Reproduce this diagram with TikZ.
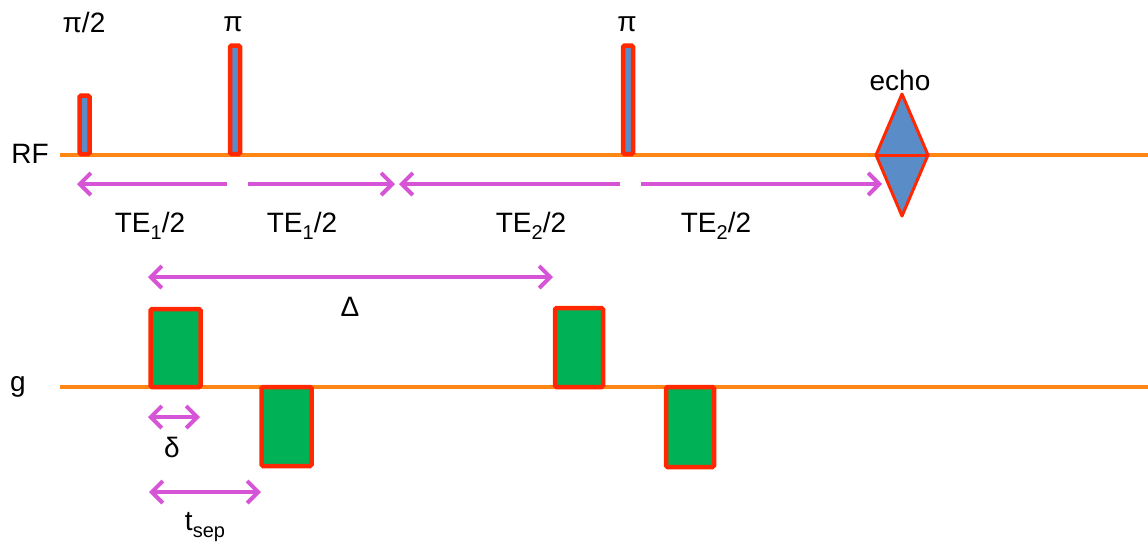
\documentclass[tikz,border=0pt]{standalone}
\usepackage{fontspec}
\setmainfont{Liberation Sans}
\usetikzlibrary{arrows.meta}
\definecolor{axisline}{RGB}{255,133,20}
\definecolor{edge}{RGB}{255,40,0}
\definecolor{rfblue}{RGB}{90,140,200}
\definecolor{gradgreen}{RGB}{0,178,85}
\definecolor{span}{RGB}{214,85,214}
% subscript at the size used on the slide
\newcommand{\lowidx}[1]{\raisebox{-0.28em}{\fontsize{20}{20}\selectfont #1}}
\begin{document}
\begin{tikzpicture}[x=1pt,y=-1pt,
  timeline/.style={axisline, line width=4pt},
  rfpulse/.style={draw=edge, fill=rfblue, line width=4.5pt, rounded corners=1.5pt},
  lobe/.style={draw=edge, fill=gradgreen, line width=4.5pt, rounded corners=1.5pt},
  barb/.tip={Straight Barb[length=11pt,width=22pt]},
  interval/.style={span, line width=4pt, -barb},
  twoway/.style={span, line width=4pt, barb-barb},
  lbl/.style={font=\fontsize{28}{32}\selectfont, inner sep=0pt, anchor=base}]
\useasboundingbox (0,0) rectangle (1148,542);

% time axes
\draw[timeline] (60,155) -- (1148,155);
\draw[timeline] (60,387) -- (1148,387);

% RF pulses
\draw[rfpulse] (79.5,154) rectangle (89.5,95.5);
\draw[rfpulse] (230,154) rectangle (240,45.5);
\draw[rfpulse] (623,154) rectangle (633,45.5);

% echo
\draw[draw=edge, fill=rfblue, line width=3pt, line join=round]
  (902,94) -- (928,155) -- (902,216) -- (876,155) -- cycle;
\draw[edge, line width=3pt] (876,155) -- (928,155);

% gradient lobes
\draw[lobe] (150.5,387) rectangle (200.5,309);
\draw[lobe] (261.5,387) rectangle (311.5,466);
\draw[lobe] (555,387) rectangle (603,308);
\draw[lobe] (666,387) rectangle (714,467);

% echo-time intervals
\coordinate (te1a) at (77,184);
\coordinate (te1m) at (227,184);
\coordinate (te1n) at (248,184);
\coordinate (te1b) at (395,184);
\coordinate (te2a) at (399,184);
\coordinate (te2m) at (620,184);
\coordinate (te2n) at (641,184);
\coordinate (te2b) at (882,184);
\draw[interval] (te1m) -- (te1a);
\draw[interval] (te1n) -- (te1b);
\draw[interval] (te2m) -- (te2a);
\draw[interval] (te2n) -- (te2b);

% diffusion timing
\coordinate (bigL) at (148,277);
\coordinate (bigR) at (553,277);
\coordinate (smL) at (148,417);
\coordinate (smR) at (200,417);
\coordinate (sepL) at (149,492);
\coordinate (sepR) at (261,492);
\draw[twoway] (bigL) -- (bigR);
\draw[twoway] (smL) -- (smR);
\draw[twoway] (sepL) -- (sepR);

% labels
\node[lbl] (lpi2) at (84,32) {π/2};
\node[lbl] (lpiA) at (233,31) {π};
\node[lbl] (lpiB) at (627,31) {π};
\node[lbl] (lecho) at (900,90) {echo};
\node[lbl] (lrf) at (30,163) {RF};
\node[lbl] (lg) at (18,391) {g};
\node[lbl] (lte1a) at (150,232) {TE\lowidx{1}/2};
\node[lbl] (lte1b) at (302,232) {TE\lowidx{1}/2};
\node[lbl] (lte2a) at (531,232) {TE\lowidx{2}/2};
\node[lbl] (lte2b) at (716,232) {TE\lowidx{2}/2};
\node[lbl] (lDelta) at (350,316) {Δ};
\node[lbl] (ldelta) at (172,457) {δ};
\node[lbl] (ltsep) at (205,530) {t\lowidx{sep}};
\end{tikzpicture}
\end{document}
